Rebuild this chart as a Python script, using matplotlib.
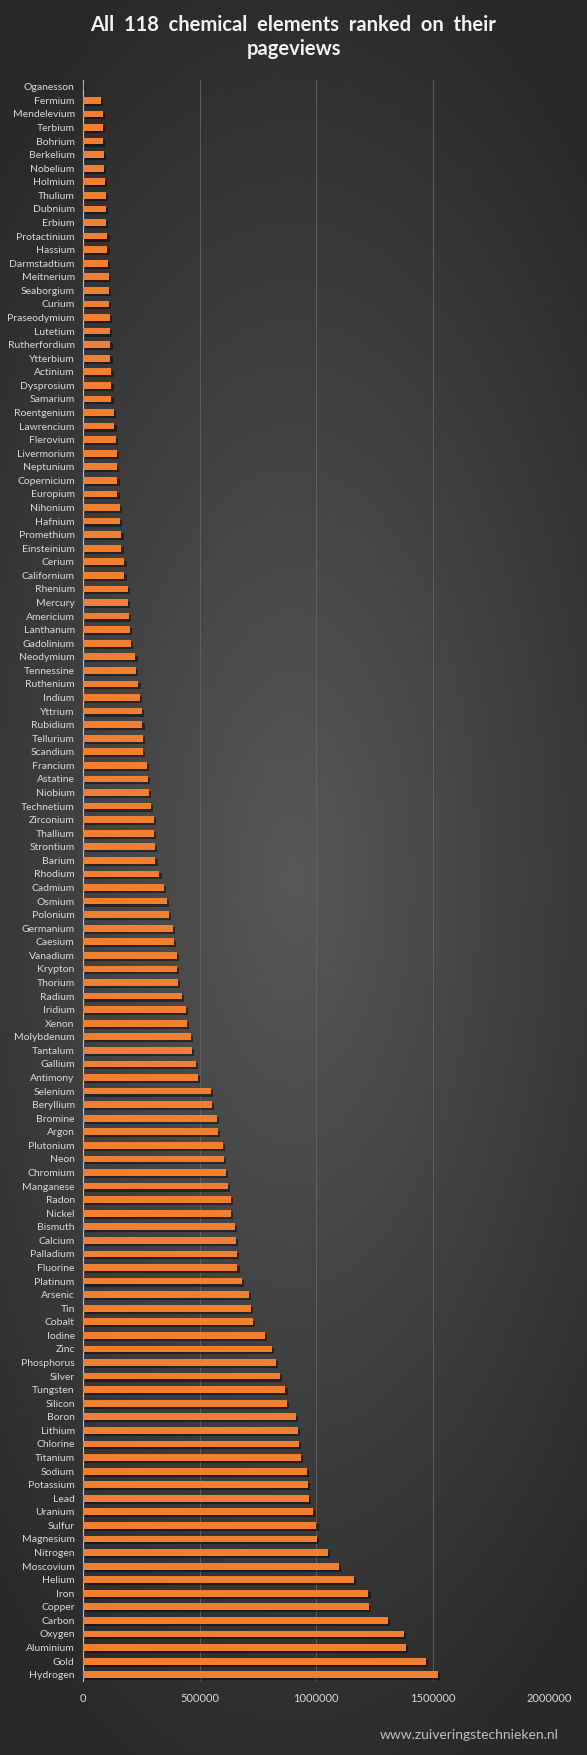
import numpy as np
import matplotlib
matplotlib.use("Agg")
import matplotlib.pyplot as plt
from matplotlib import patheffects as pe
from matplotlib.ticker import FixedLocator, FuncFormatter

elements = [
    "Oganesson", "Fermium", "Mendelevium", "Terbium", "Bohrium", "Berkelium", "Nobelium",
    "Holmium", "Thulium", "Dubnium", "Erbium", "Protactinium", "Hassium", "Darmstadtium",
    "Meitnerium", "Seaborgium", "Curium", "Praseodymium", "Lutetium", "Rutherfordium",
    "Ytterbium", "Actinium", "Dysprosium", "Samarium", "Roentgenium", "Lawrencium",
    "Flerovium", "Livermorium", "Neptunium", "Copernicium", "Europium", "Nihonium",
    "Hafnium", "Promethium", "Einsteinium", "Cerium", "Californium", "Rhenium", "Mercury",
    "Americium", "Lanthanum", "Gadolinium", "Neodymium", "Tennessine", "Ruthenium",
    "Indium", "Yttrium", "Rubidium", "Tellurium", "Scandium", "Francium", "Astatine",
    "Niobium", "Technetium", "Zirconium", "Thallium", "Strontium", "Barium", "Rhodium",
    "Cadmium", "Osmium", "Polonium", "Germanium", "Caesium", "Vanadium", "Krypton",
    "Thorium", "Radium", "Iridium", "Xenon", "Molybdenum", "Tantalum", "Gallium",
    "Antimony", "Selenium", "Beryllium", "Bromine", "Argon", "Plutonium", "Neon",
    "Chromium", "Manganese", "Radon", "Nickel", "Bismuth", "Calcium", "Palladium",
    "Fluorine", "Platinum", "Arsenic", "Tin", "Cobalt", "Iodine", "Zinc", "Phosphorus",
    "Silver", "Tungsten", "Silicon", "Boron", "Lithium", "Chlorine", "Titanium", "Sodium",
    "Potassium", "Lead", "Uranium", "Sulfur", "Magnesium", "Nitrogen", "Moscovium",
    "Helium", "Iron", "Copper", "Carbon", "Oxygen", "Aluminium", "Gold", "Hydrogen",
]

pageviews = [
    6000, 78000, 84000, 84000, 85000, 88000, 88000,
    93000, 97000, 97000, 97000, 105000, 105000, 109000,
    110000, 110000, 110000, 114000, 117000, 118000,
    118000, 122000, 122000, 122000, 131000, 135000,
    143000, 144000, 144000, 148000, 148000, 157000,
    160000, 165000, 165000, 178000, 178000, 191000, 194000,
    199000, 203000, 204000, 225000, 229000, 238000,
    246000, 254000, 255000, 259000, 259000, 275000, 279000,
    285000, 292000, 305000, 306000, 310000, 311000, 328000,
    349000, 362000, 370000, 387000, 392000, 404000, 405000,
    409000, 426000, 443000, 447000, 464000, 469000, 486000,
    494000, 550000, 554000, 575000, 580000, 601000, 605000,
    614000, 622000, 635000, 636000, 654000, 658000, 659000,
    663000, 684000, 714000, 719000, 731000, 779000, 809000, 830000,
    847000, 869000, 877000, 912000, 921000, 926000, 934000, 960000,
    965000, 968000, 989000, 1002000, 1006000, 1050000, 1098000,
    1164000, 1225000, 1226000, 1307000, 1376000, 1387000, 1473000, 1525000,
]

x_ticks = [0, 500000, 1000000, 1500000, 2000000]
title = "All  118  chemical  elements  ranked  on  their\npageviews"
footer = "www.zuiveringstechnieken.nl"

FONT = ["Lato", "DejaVu Sans"]
plt.rcParams["font.family"] = FONT

fig = plt.figure(figsize=(5.87, 17.55), dpi=100)

# background radial gradient
bg = fig.add_axes([0, 0, 1, 1], zorder=-10)
bg.set_axis_off()
gx, gy = np.meshgrid(np.linspace(0, 1, 300), np.linspace(0, 1, 900))
d = np.sqrt(((gx - 0.5) / 0.75) ** 2 + ((gy - 0.5) / 0.55) ** 2)
d = np.clip(d, 0, 1)
c_in = np.array([0x58, 0x58, 0x58]) / 255
c_out = np.array([0x29, 0x29, 0x29]) / 255
img = c_in[None, None, :] * (1 - d[..., None]) + c_out[None, None, :] * d[..., None]
bg.imshow(img, extent=[0, 1, 0, 1], aspect="auto", origin="lower")
bg.set_xlim(0, 1)
bg.set_ylim(0, 1)

ax = fig.add_axes([0.1414, 0.0419, 0.7939, 0.9125])
ax.patch.set_alpha(0)
y = np.arange(len(elements))
bars = ax.barh(y, pageviews, height=0.5, color="#F07F32", zorder=3)
for b in bars:
    b.set_path_effects([pe.SimplePatchShadow(offset=(1.5, -1.5), shadow_rgbFace="black", alpha=0.45),
                        pe.Normal()])

ax.set_ylim(len(elements) - 0.5, -0.5)
ax.set_xlim(0, 2000000)
ax.set_yticks(y)
ax.set_yticklabels(elements)
ax.xaxis.set_major_locator(FixedLocator(x_ticks))
ax.xaxis.set_major_formatter(FuncFormatter(lambda v, p: f"{int(v)}"))
ax.tick_params(axis="y", length=0, pad=6, labelsize=7.5, labelcolor="#D9D9D9")
ax.tick_params(axis="x", length=0, pad=8, labelsize=8, labelcolor="#D9D9D9")
ax.grid(axis="x", color="#646464", linewidth=0.6, zorder=0)
for s in ["top", "right", "bottom"]:
    ax.spines[s].set_visible(False)
ax.spines["left"].set_color("#BFBFBF")
ax.spines["left"].set_linewidth(0.8)
ax.spines["left"].set_zorder(2)

fig.text(0.5, 0.9789, title, ha="center", va="center", fontsize=14.5, fontweight="bold",
         color="#F2F2F2", linespacing=1.25)
fig.text(0.951, 0.0114, footer, ha="right", va="center", fontsize=10, color="#BFBFBF")

fig.savefig("out.png", dpi=100, facecolor="#2a2a2a")
